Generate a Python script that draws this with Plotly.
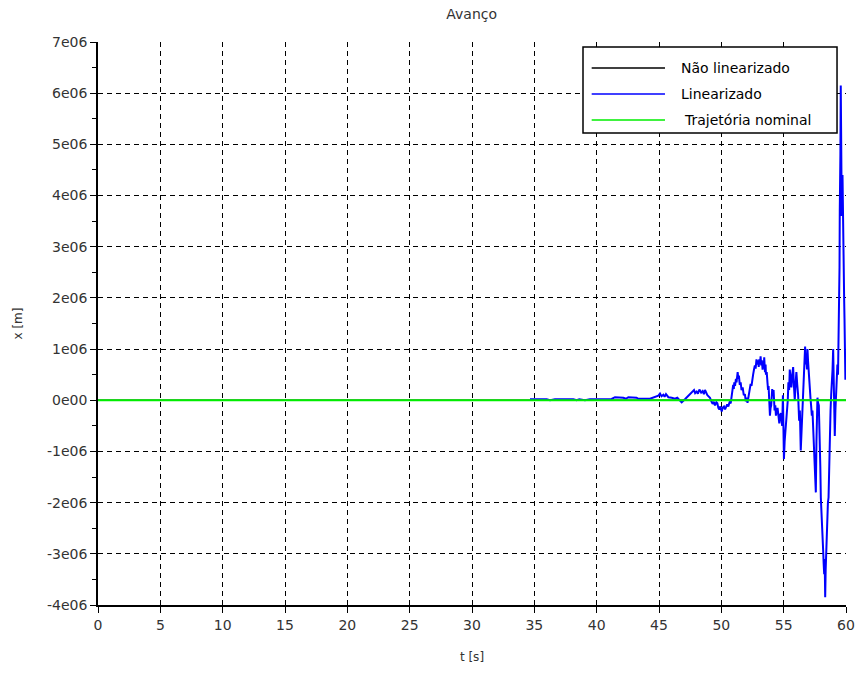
import plotly.graph_objects as go

# Simulation time axis and forward displacement x(t) of the linearised model, in units of 1e6 m
t_lin = [34.65, 35.99, 36.26, 36.66, 38.13, 38.39, 38.61, 39.06, 39.46, 41.2, 41.47, 42.14, 42.35,
         42.54, 43.2, 43.34, 44.28, 44.55, 44.95, 45.08, 45.2, 45.35, 45.45, 45.56, 45.75, 46.02,
         46.28, 46.47, 46.82, 47.08, 47.35, 47.5, 47.62, 47.81, 47.9, 48.02, 48.12, 48.24, 48.38,
         48.5, 48.6, 48.69, 48.88, 49.09, 49.2, 49.3, 49.4, 49.49, 49.6, 49.68, 49.76, 49.84, 49.92,
         50.03, 50.12, 50.21, 50.3, 50.37, 50.47, 50.56, 50.66, 50.75, 50.82, 50.88, 50.95, 51.0,
         51.04, 51.1, 51.17, 51.22, 51.31, 51.36, 51.41, 51.48, 51.55, 51.62, 51.71, 51.8, 51.89,
         51.96, 52.03, 52.1, 52.19, 52.27, 52.35, 52.42, 52.48, 52.55, 52.62, 52.69, 52.75, 52.82,
         52.88, 52.95, 53.0, 53.04, 53.1, 53.15, 53.2, 53.25, 53.31, 53.36, 53.4, 53.44, 53.5,
         53.55, 53.58, 53.64, 53.7, 53.75, 53.79, 53.85, 53.9, 53.95, 54.0, 54.04, 54.08, 54.13,
         54.19, 54.23, 54.27, 54.33, 54.38, 54.44, 54.51, 54.58, 54.65, 54.7, 54.78, 54.83, 54.88,
         54.94, 54.98, 55.02, 55.08, 55.14, 55.2, 55.27, 55.33, 55.38, 55.44, 55.49, 55.55, 55.62,
         55.69, 55.76, 55.82, 55.89, 55.95, 56.02, 56.09, 56.16, 56.24, 56.3, 56.37, 56.44, 56.51,
         56.56, 56.61, 56.67, 56.72, 56.77, 56.83, 56.87, 56.91, 56.96, 57.01, 57.08, 57.15, 57.2,
         57.26, 57.31, 57.37, 57.42, 57.47, 57.53, 57.58, 57.63, 57.67, 57.71, 57.76, 57.82, 57.86,
         57.9, 57.94, 57.98, 58.03, 58.09, 58.13, 58.17, 58.21, 58.25, 58.29, 58.33, 58.37, 58.41,
         58.45, 58.49, 58.55, 58.6, 58.64, 58.68, 58.72, 58.76, 58.81, 58.86, 58.92, 58.97, 59.02,
         59.06, 59.1, 59.15, 59.21, 59.26, 59.31, 59.36, 59.42, 59.45, 59.48, 59.5, 59.53, 59.55,
         59.58, 59.6, 59.62, 59.64, 59.66, 59.69, 59.72, 59.75, 59.78, 59.81, 59.85, 59.88, 59.9,
         59.93, 59.95, 59.98, 60.0]
x_lin = [0.02, 0.02, 0.0, 0.02, 0.02, 0.0, 0.02, 0.0, 0.02, 0.025, 0.06, 0.05, 0.03,
         0.06, 0.05, 0.03, 0.03, 0.06, 0.09, 0.13, 0.08, 0.11, 0.07, 0.12, 0.06, 0.05,
         0.03, 0.05, -0.04, 0.02, 0.08, 0.12, 0.14, 0.2, 0.14, 0.17, 0.13, 0.21, 0.15,
         0.18, 0.12, 0.2, 0.1, 0.05, -0.02, -0.07, -0.03, -0.1, -0.04, -0.06, -0.15, -0.18, -0.12,
         -0.22, -0.14, -0.12, -0.18, -0.14, -0.08, -0.12, -0.04, -0.06, 0.05, 0.15, 0.3, 0.22,
         0.35, 0.28, 0.42, 0.35, 0.55, 0.42, 0.48, 0.3, 0.35, 0.2, 0.25, 0.1, 0.12,
         -0.02, 0.05, -0.05, 0.1, 0.15, 0.32, 0.28, 0.45, 0.5, 0.6, 0.68, 0.62, 0.8,
         0.7, 0.78, 0.65, 0.8, 0.7, 0.86, 0.68, 0.78, 0.6, 0.75, 0.62, 0.84, 0.55,
         0.7, 0.5, 0.55, 0.35, 0.2, 0.28, -0.05, -0.3, -0.15, -0.1, 0.05, 0.22, 0.1,
         0.2, 0.0, -0.2, -0.1, -0.3, -0.2, -0.15, -0.3, -0.45, -0.3, -0.25, -0.4, -0.5,
         0.1, -0.4, -1.15, -0.8, -0.6, -0.4, -0.3, 0.0, 0.35, 0.2, 0.6, 0.4, 0.25,
         0.5, 0.65, 0.3, 0.0, 0.3, 0.55, 0.3, 0.1, -0.4, -0.2, -0.98, -0.6, -0.3,
         0.1, 0.4, 0.75, 1.05, 0.7, 0.8, 0.6, 1.0, 0.75, 0.5, 0.2, 0.05, -0.1,
         -0.3, -0.2, -0.6, -0.9, -1.3, -1.5, -1.8, -0.8, -0.3, 0.05, -0.05, -0.1, -0.5,
         -0.8, -1.3, -1.9, -2.3, -2.6, -2.75, -2.95, -3.2, -3.4, -3.1, -3.85, -3.3, -3.0,
         -2.6, -2.2, -2.0, -1.9, -1.3, -0.8, -0.5, -0.2, 0.1, 0.3, 0.6, 1.0, 0.1,
         -0.3, -0.7, -0.2, 0.1, 0.3, 0.7, 0.5, 1.4, 2.1, 2.6, 3.7, 4.2, 4.8,
         6.15, 5.6, 5.3, 4.4, 3.6, 4.0, 4.4, 3.6, 2.6, 3.0, 2.0, 1.6, 1.2,
         0.8, 0.4, 0.6, 0.7]

# Nominal trajectory and the non-linear simulation over the whole horizon
t_full = [0, 60]
x_nominal = [0, 0]
x_nonlin = [0, 0]

series_names = ["Não linearizado", "Linearizado", "Trajetória nominal"]
series_colors = ["#000000", "#0000ff", "#00ee00"]

x_ticks = [0, 5, 10, 15, 20, 25, 30, 35, 40, 45, 50, 55, 60]
y_ticks = [-4e6, -3e6, -2e6, -1e6, 0, 1e6, 2e6, 3e6, 4e6, 5e6, 6e6, 7e6]
y_ticktext = ["-4e06", "-3e06", "-2e06", "-1e06", "0e00", "1e06", "2e06",
              "3e06", "4e06", "5e06", "6e06", "7e06"]

fig = go.Figure()
fig.add_trace(go.Scatter(x=t_full, y=x_nonlin, mode="lines", name=series_names[0],
                         line=dict(color=series_colors[0], width=1.5), showlegend=False))
fig.add_trace(go.Scatter(x=t_lin, y=[v * 1e6 for v in x_lin], mode="lines", name=series_names[1],
                         line=dict(color=series_colors[1], width=2), showlegend=False))
fig.add_trace(go.Scatter(x=t_full, y=x_nominal, mode="lines", name=series_names[2],
                         line=dict(color=series_colors[2], width=1.8), showlegend=False))

grid_dash = "5px,4px"
label_family = "DejaVu Sans, Liberation Sans, sans-serif"
tick_font = dict(family=label_family, size=14, color="#333333")
title_font = dict(family=label_family, size=12, color="#333333")

fig.update_xaxes(range=[0, 60], tickvals=x_ticks, ticks="outside", ticklen=6, tickcolor="#000",
                 showline=True, linecolor="#000", linewidth=1.5, showgrid=True,
                 gridcolor="#000", gridwidth=1, griddash=grid_dash, zeroline=False,
                 tickfont=tick_font, automargin=False,
                 title=dict(text="t [s]", font=title_font, standoff=21))
fig.update_yaxes(range=[-4e6, 7e6], tickvals=y_ticks, ticktext=y_ticktext, ticks="outside",
                 ticklen=6, tickcolor="#000", showline=True, linecolor="#000", linewidth=1.5,
                 showgrid=True, gridcolor="#000", gridwidth=1, griddash=grid_dash,
                 zeroline=False, tickfont=tick_font, automargin=False,
                 minor=dict(tick0=0, dtick=5e5, ticks="outside", ticklen=4, tickcolor="#000",
                            showgrid=False),
                 title=dict(text="x [m]", font=title_font, standoff=22))

# Legend panel drawn in plot-paper coordinates
box = dict(x0=0.6484, x1=0.988, y0=0.8384, y1=0.991)
row_y = [0.9538, 0.9076, 0.8615]
text_x = [0.7767, 0.7767, 0.7807]
shapes = [dict(type="rect", xref="paper", yref="paper", layer="above",
               fillcolor="#ffffff", line=dict(color="#000", width=1.5), **box)]
annotations = []
for name, color, yy, xx in zip(series_names, series_colors, row_y, text_x):
    shapes.append(dict(type="line", xref="paper", yref="paper", layer="above",
                       x0=0.660, x1=0.758, y0=yy, y1=yy, line=dict(color=color, width=1.5)))
    annotations.append(dict(text=name, xref="paper", yref="paper", x=xx, y=yy,
                            xanchor="left", yanchor="middle", showarrow=False,
                            font=dict(family=label_family, size=14, color="#000")))

fig.update_layout(
    width=856, height=675,
    margin=dict(l=98, r=10, t=42, b=70),
    paper_bgcolor="#ffffff", plot_bgcolor="#ffffff",
    title=dict(text="Avanço", x=0.551, xanchor="center", y=0.979, yanchor="middle",
               font=dict(family=label_family, size=14, color="#333333")),
    shapes=shapes, annotations=annotations,
    showlegend=False,
)

fig.write_html("out.html")
